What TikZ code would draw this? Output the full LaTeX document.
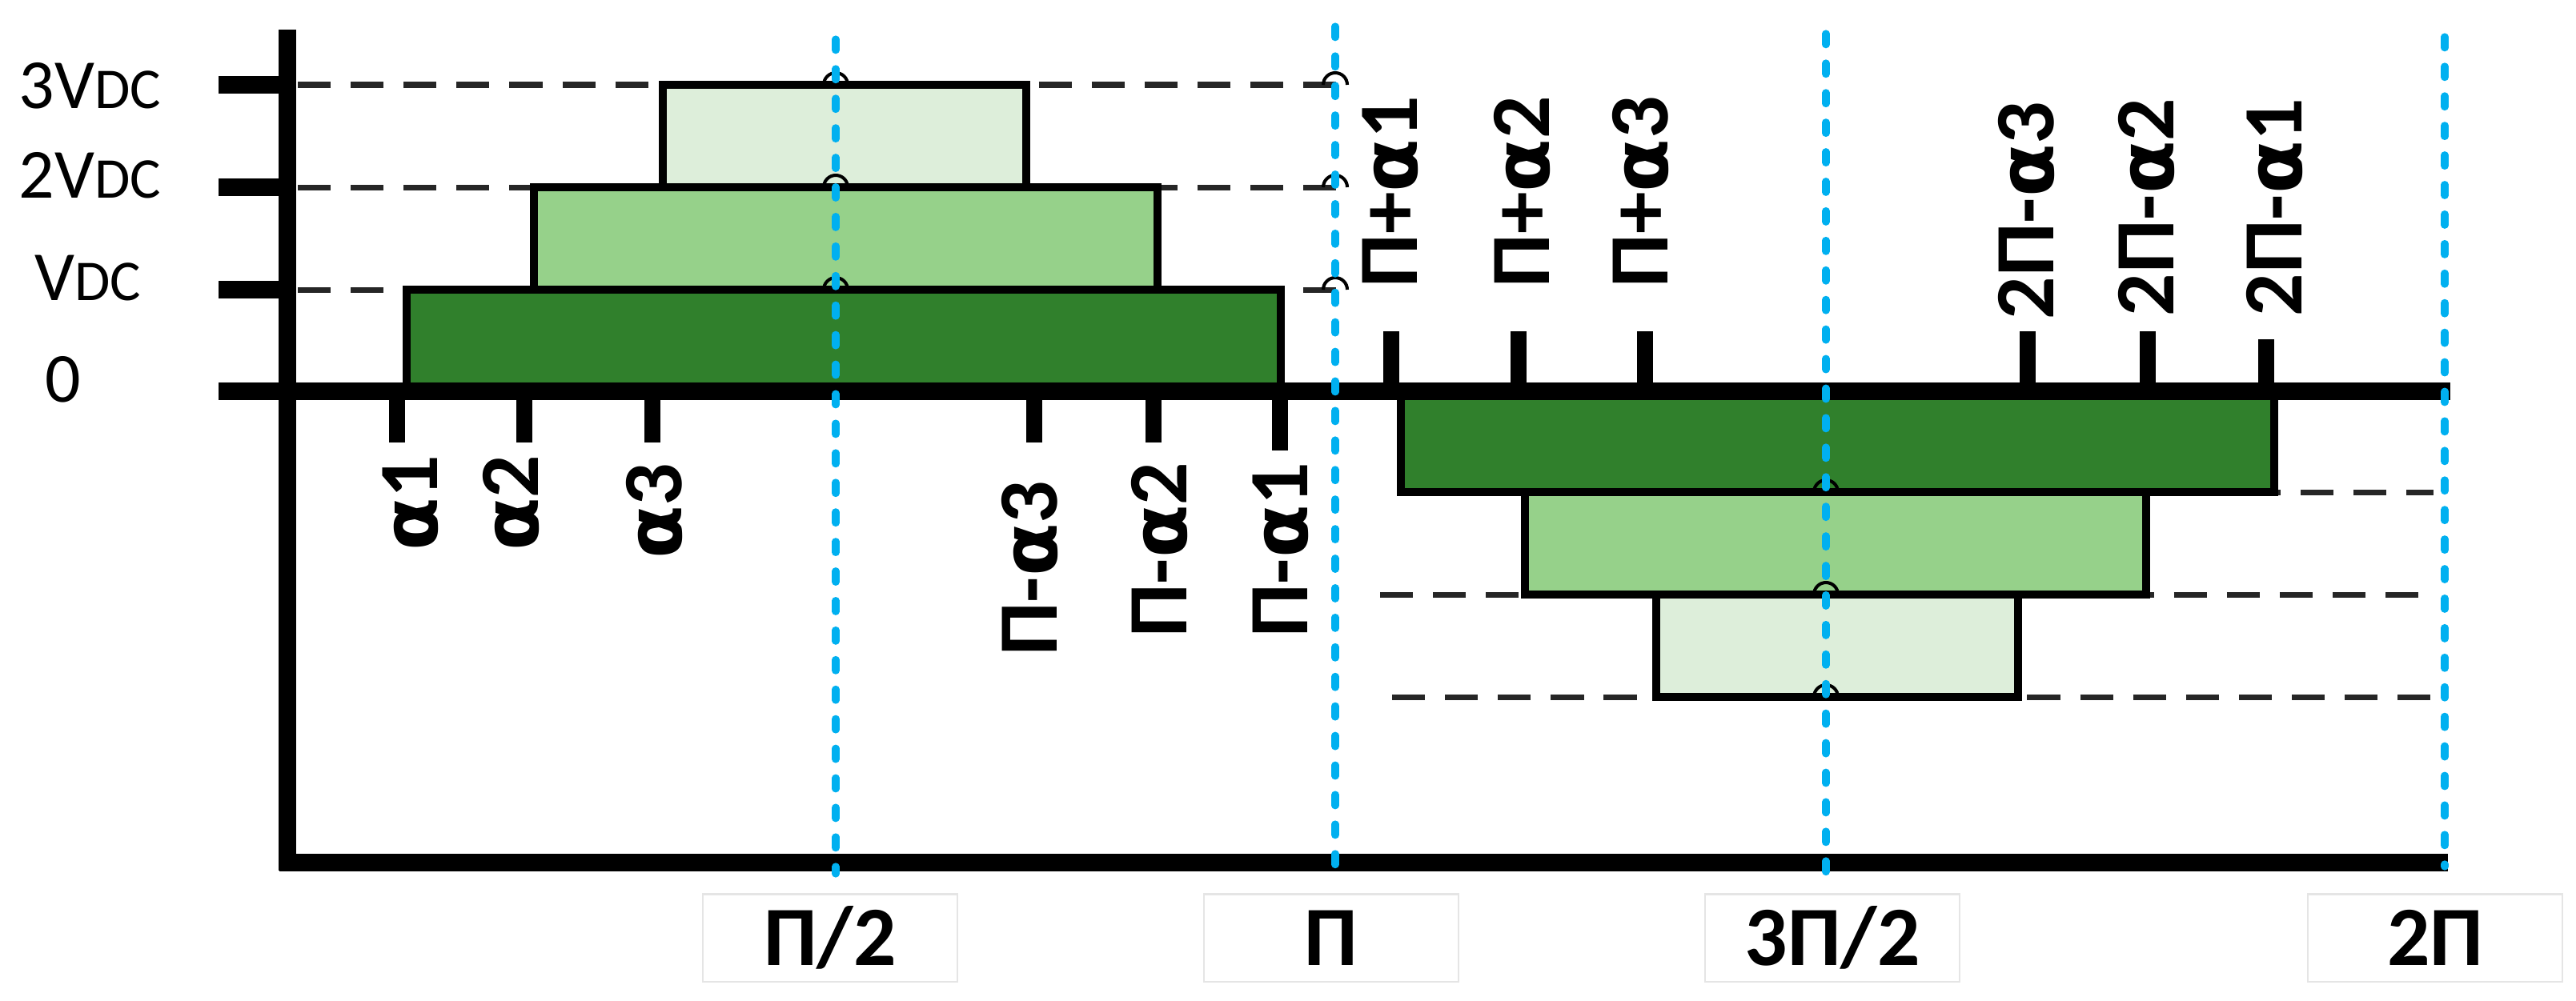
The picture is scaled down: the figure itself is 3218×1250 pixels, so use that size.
\documentclass[tikz,border=0pt]{standalone}
\usepackage{fontspec}
\setmainfont{Carlito}
\newfontfamily\grk[Scale=0.92]{DejaVu Sans}
\newcommand{\alf}{{\grk\bfseries α}}
\definecolor{darkg}{HTML}{30802C}
\definecolor{midg}{HTML}{96D18A}
\definecolor{lightg}{HTML}{DDEEDA}
\definecolor{guideblue}{HTML}{00B0F0}
\begin{document}
\begin{tikzpicture}[x=0.01cm,y=-0.01cm,
  axis/.style={line width=6.26pt},
  tickm/.style={line width=5.7pt},
  lvl/.style={line width=2pt, dash pattern=on 11.7pt off 7.1pt, draw=black!85},
  pulse/.style={line width=2.85pt, draw=black},
  hop/.style={line width=1.15pt},
  guide/.style={line width=2.6pt, draw=guideblue, line cap=round, dash pattern=on 3.9pt off 6.6pt},
  lab/.style={font=\fontsize{30}{36}\selectfont\bfseries, inner sep=0pt, rotate=90},
  vlab/.style={font=\fontsize{25}{30}\selectfont, inner sep=0pt, anchor=base west},
  pbox/.style={draw=black!10, line width=0.6pt, fill=white, minimum width=3.18cm, minimum height=1.09cm, font=\fontsize{30}{36}\selectfont\bfseries, inner sep=0pt}
]
\useasboundingbox (0,0) rectangle (3218,1250);

% level dashed lines
\draw[lvl] (372,106) -- (1692,106);
\draw[lvl] (372,234) -- (1692,234);
\draw[lvl] (372,362) -- (1692,362);
\draw[lvl] (1750,615) -- (3040,615);
\draw[lvl] (1724,743) -- (3030,743);
\draw[lvl] (1739,871) -- (3040,871);

% positive pulses
\draw[pulse, fill=darkg] (508,362) rectangle (1600,489);
\draw[pulse, fill=midg] (667,234) rectangle (1446,362);
\draw[pulse, fill=lightg] (828,106) rectangle (1282,234);
% negative pulses
\draw[pulse, fill=darkg] (1750,489) rectangle (2841,615);
\draw[pulse, fill=midg] (1905,615) rectangle (2681,743);
\draw[pulse, fill=lightg] (2069,743) rectangle (2521,871);

% hops
\foreach \hx/\hy in {1044/106,1044/234,1044/362,1668/106,1668/234,1668/362,2281/615,2281/743,2281/871}
  \draw[hop] (\hx-15,\hy) arc[start angle=180, end angle=360, radius=15];

% axes
\draw[axis] (359,37) -- (359,1088);
\draw[axis] (349,1078) -- (3058,1078);
\draw[axis] (273,489) -- (3061,489);
\draw[axis] (273,106) -- (359,106);
\draw[axis] (273,234) -- (359,234);
\draw[axis] (273,362) -- (359,362);

% ticks
\foreach \tx in {496,655,815,1292,1441} \draw[tickm] (\tx,489) -- (\tx,553);
\draw[tickm] (1599,489) -- (1599,563);
\foreach \tx in {1738,1897,2055,2533,2683} \draw[tickm] (\tx,414) -- (\tx,489);
\draw[tickm] (2831,424) -- (2831,489);

% guide lines
\draw[guide] (1044,49) -- (1044,1092);
\draw[guide] (1668,33) -- (1668,1083);
\draw[guide] (2281,42) -- (2281,1092);
\draw[guide] (3054,46) -- (3054,1083);

% level labels
\node[vlab] (l3) at (23,135) {3V{\fontsize{20.5}{24}\selectfont DC}};
\node[vlab] (l2) at (23,247) {2V{\fontsize{20.5}{24}\selectfont DC}};
\node[vlab] (l1) at (43,375) {V{\fontsize{20.5}{24}\selectfont DC}};
\node[vlab] (l0) at (56,502) {0};

% angle labels below
\node[lab, anchor=east] (a1) at (513,568) {\alf1};
\node[lab, anchor=east] (a2) at (639,568) {\alf2};
\node[lab, anchor=east] (a3) at (818,578) {\alf3};
\node[lab, anchor=east] (pa3) at (1287,600) {Π-\alf3};
\node[lab, anchor=east] (pa2) at (1449,577) {Π-\alf2};
\node[lab, anchor=east] (pa1) at (1600,577) {Π-\alf1};
% angle labels above
\node[lab, anchor=west] (qa1) at (1737,360) {Π+\alf1};
\node[lab, anchor=west] (qa2) at (1902,360) {Π+\alf2};
\node[lab, anchor=west] (qa3) at (2050,360) {Π+\alf3};
\node[lab, anchor=west] (ra3) at (2532,400) {2Π-\alf3};
\node[lab, anchor=west] (ra2) at (2682,396) {2Π-\alf2};
\node[lab, anchor=west] (ra1) at (2842,396) {2Π-\alf1};

% bottom boxes
\node[pbox] (b1) at (1037,1172) {Π/2};
\node[pbox] (b2) at (1663,1172) {Π};
\node[pbox] (b3) at (2289,1172) {3Π/2};
\node[pbox] (b4) at (3042,1172) {2Π};
\end{tikzpicture}
\end{document}
